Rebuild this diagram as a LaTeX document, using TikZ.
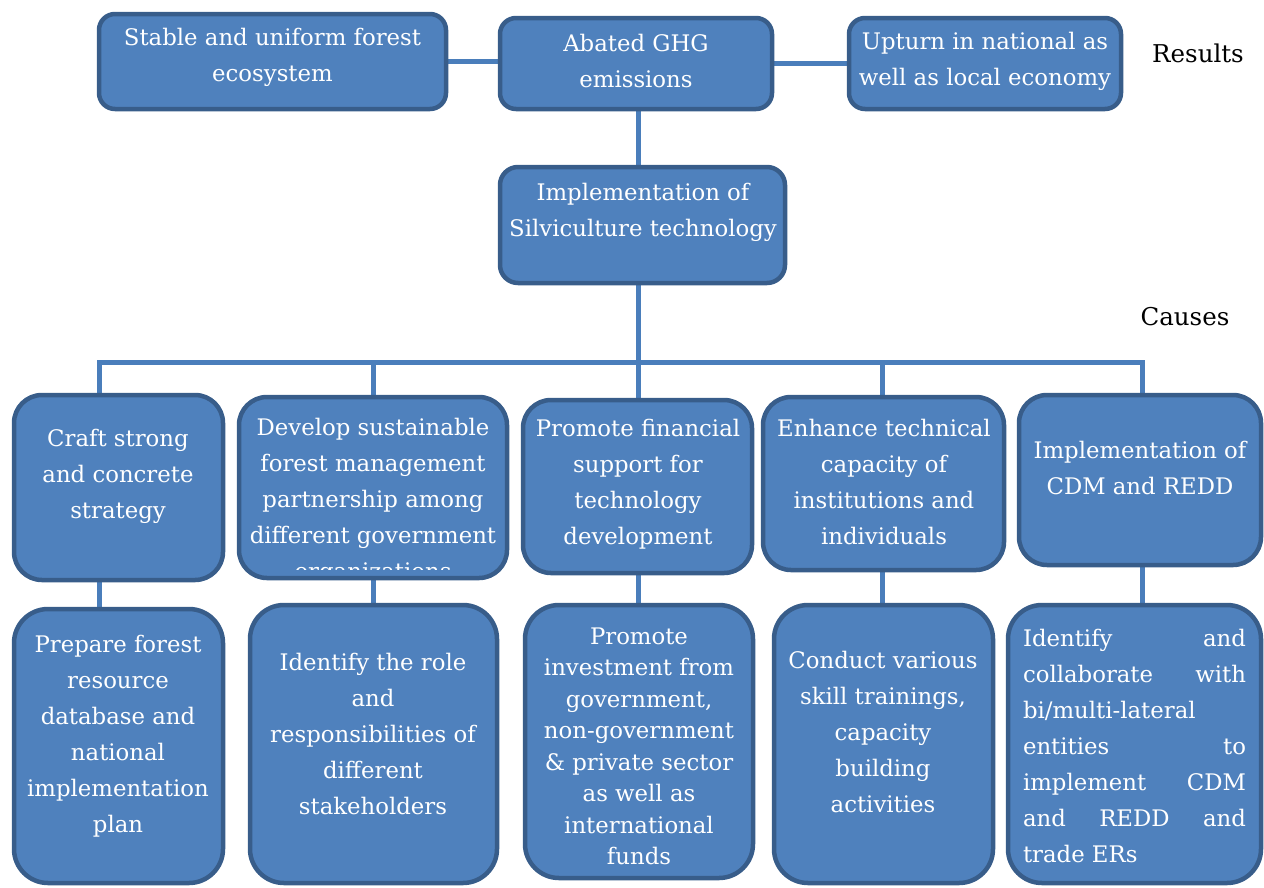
\documentclass[tikz,border=0pt]{standalone}
\usepackage{fontspec}
\setmainfont{DejaVu Serif}
\usetikzlibrary{backgrounds}
\definecolor{boxfill}{HTML}{4F81BD}
\definecolor{boxedge}{HTML}{385D8A}
\definecolor{linkblue}{HTML}{4A7EBB}

\tikzset{
  box/.style={draw=boxedge, line width=4.5pt, fill=boxfill, inner sep=0pt},
  txt/.style={text=white, align=center, font=\fontsize{22.8}{36}\selectfont, inner sep=0pt, yshift=-2pt},
  conn/.style={draw=linkblue, line width=5pt},
  side/.style={font=\fontsize{24.5}{28}\selectfont, inner sep=0pt}
}

\begin{document}
\begin{tikzpicture}[x=1pt,y=-1pt]
\useasboundingbox (0,0) rectangle (1264,887);

% results row
\node[box, rounded corners=16pt, minimum width=347pt, minimum height=95pt] (stable) at (272.5,61.5) {};
\node[box, rounded corners=16pt, minimum width=272pt, minimum height=91pt] (abated) at (636,63.5) {};
\node[box, rounded corners=16pt, minimum width=272pt, minimum height=91pt] (upturn) at (985,63.5) {};
\node[txt] (stable-t) at (272.5,55.5) {Stable and uniform forest\\ecosystem};
\node[txt] (abated-t) at (636,59) {Abated GHG\\emissions};
\node[txt] (upturn-t) at (985,59) {Upturn in national as\\well as local economy};

% central intervention
\node[box, rounded corners=18pt, minimum width=285pt, minimum height=116pt] (silvi) at (642.5,225) {};
\node[txt] (silvi-t) at (643,210) {Implementation of\\Silviculture technology};

% side labels
\node[side] (results) at (1198,53) {Results};
\node[side] (causes) at (1185,317) {Causes};

% causes row
\node[box, rounded corners=28pt, minimum width=209pt, minimum height=185pt] (craft) at (118.5,487.5) {};
\node[box, rounded corners=28pt, minimum width=268pt, minimum height=181pt] (develop) at (373,487.5) {};
\node[box, rounded corners=28pt, minimum width=229pt, minimum height=173pt] (finance) at (637.5,486.5) {};
\node[box, rounded corners=28pt, minimum width=241pt, minimum height=173pt] (capacity) at (883.5,483.5) {};
\node[box, rounded corners=28pt, minimum width=242pt, minimum height=170pt] (cdm) at (1140,480) {};

\node[txt] (craft-t) at (118,474) {Craft strong\\and concrete\\strategy};
\begin{scope}
  \clip (230,390) rectangle (515,569);
  \node[txt] (develop-t) at (373,499) {Develop sustainable\\forest management\\partnership among\\different government\\organizations};
\end{scope}
\node[txt] (finance-t) at (638,482) {Promote financial\\support for\\technology\\development};
\node[txt] (capacity-t) at (884,480) {Enhance technical\\capacity of\\institutions and\\individuals};
\node[txt] (cdm-t) at (1140,466) {Implementation of\\CDM and REDD};

% activities row
\node[box, rounded corners=34pt, minimum width=209pt, minimum height=274pt] (prepare) at (118.5,746) {};
\node[box, rounded corners=34pt, minimum width=247pt, minimum height=278pt] (identify) at (373.5,744) {};
\node[box, rounded corners=34pt, minimum width=228pt, minimum height=273pt] (invest) at (639,741.5) {};
\node[box, rounded corners=34pt, minimum width=219pt, minimum height=278pt] (train) at (883.5,744) {};
\node[box, rounded corners=34pt, minimum width=253pt, minimum height=278pt] (collab) at (1134.5,744) {};

\node[txt] (prepare-t) at (118,734) {Prepare forest\\resource\\database and\\national\\implementation\\plan};
\node[txt] (identify-t) at (373,732) {Identify the role\\and\\responsibilities of\\different\\stakeholders};
\node[txt, font=\fontsize{22.8}{31.5}\selectfont] (invest-t) at (639,744.5) {Promote\\investment from\\government,\\non-government\\\& private sector\\as well as\\international\\funds};
\node[txt] (train-t) at (883,730) {Conduct various\\skill trainings,\\capacity\\building\\activities};
\node[txt, align=left] (collab-t) at (1134.5,744) {%
  \makebox[223pt][s]{Identify and}\\
  \makebox[223pt][s]{collaborate with}\\
  \makebox[223pt][l]{bi/multi-lateral}\\
  \makebox[223pt][s]{entities to}\\
  \makebox[223pt][s]{implement CDM}\\
  \makebox[223pt][s]{and REDD and}\\
  \makebox[223pt][l]{trade ERs}};

% connectors, kept behind the boxes
\coordinate (trunk) at (638,0);
\coordinate (bus) at (0,362);
\coordinate (x1) at (99,0);
\coordinate (x2) at (373,0);
\coordinate (x3) at (638,0);
\coordinate (x4) at (882,0);
\coordinate (x5) at (1142,0);
\begin{scope}[on background layer]
  \draw[conn] (stable.east) -- (stable.east -| abated.west);
  \draw[conn] (abated.east) -- (abated.east -| upturn.west);
  \draw[conn] (abated.south -| trunk) -- (silvi.north -| trunk);
  \draw[conn] (silvi.south -| trunk) -- (trunk |- bus);
  \draw[conn] (craft.north -| x1) -- (x1 |- bus) -- (x5 |- bus) -- (cdm.north -| x5);
  \draw[conn] (x2 |- bus) -- (develop.north -| x2);
  \draw[conn] (x3 |- bus) -- (finance.north -| x3);
  \draw[conn] (x4 |- bus) -- (capacity.north -| x4);
  \draw[conn] (craft.south -| x1) -- (prepare.north -| x1);
  \draw[conn] (develop.south -| x2) -- (identify.north -| x2);
  \draw[conn] (finance.south -| x3) -- (invest.north -| x3);
  \draw[conn] (capacity.south -| x4) -- (train.north -| x4);
  \draw[conn] (cdm.south -| x5) -- (collab.north -| x5);
\end{scope}
\end{tikzpicture}
\end{document}
